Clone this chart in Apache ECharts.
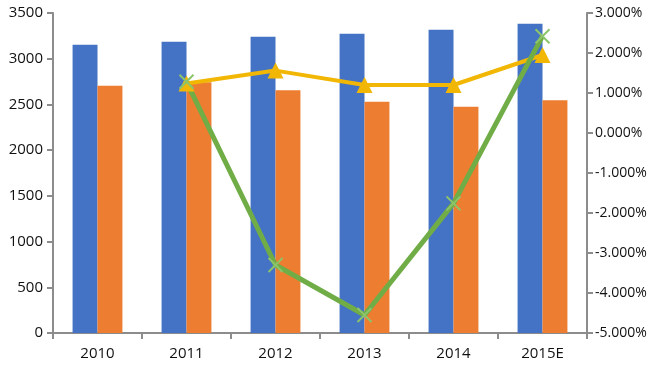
<!DOCTYPE html>
<html><head><meta charset="utf-8">
<script src="https://cdn.jsdelivr.net/npm/echarts@6/dist/echarts.min.js"></script>
<style>html,body{margin:0;padding:0;background:#fff}#c{width:659px;height:373px}</style>
</head><body><div id="c"></div>
<script>
var categories = ['2010','2011','2012','2013','2014','2015E'];
var blueValues = [3153, 3186, 3241, 3274, 3318, 3383];
var orangeValues = [2705, 2742, 2654, 2530, 2475, 2545];
var yellowPct = [null, 1.24, 1.56, 1.20, 1.20, 1.95];
var greenPct = [null, 1.28, -3.30, -4.55, -1.76, 2.42];

var axisColor = '#8c8c8c';
var font = '"Open Sans", sans-serif';
var chart = echarts.init(document.getElementById('c'));
chart.setOption({
  animation: false,
  grid: {left: 53, right: 72, top: 13, bottom: 40},
  xAxis: {
    type: 'category', data: categories,
    axisLine: {lineStyle: {color: axisColor, width: 2}},
    axisTick: {show: true, length: 6, lineStyle: {color: axisColor, width: 2}},
    axisLabel: {color: '#111', fontSize: 15, fontFamily: font, margin: 13}
  },
  yAxis: [{
    type: 'value', min: 0, max: 3500, interval: 500,
    splitLine: {show: false},
    axisLine: {show: true, lineStyle: {color: axisColor, width: 2}},
    axisTick: {show: true, length: 6, lineStyle: {color: axisColor, width: 2}},
    axisLabel: {color: '#111', fontSize: 15, fontFamily: font, margin: 10,
      formatter: function (v) { return String(v); }}
  }, {
    type: 'value', min: -5, max: 3, interval: 1,
    splitLine: {show: false},
    axisLine: {show: true, lineStyle: {color: axisColor, width: 2}},
    axisTick: {show: true, length: 6, lineStyle: {color: axisColor, width: 2}},
    axisLabel: {color: '#111', fontSize: 14, fontFamily: font, margin: 8,
      formatter: function (v) { return v.toFixed(3) + '%'; }}
  }],
  series: [{
    type: 'bar', data: blueValues, itemStyle: {color: '#4472C4'},
    barGap: '0%', barCategoryGap: '44%'
  }, {
    type: 'bar', data: orangeValues, itemStyle: {color: '#ED7D31'}
  }, {
    type: 'line', yAxisIndex: 1, data: yellowPct,
    lineStyle: {color: '#F2B705', width: 4},
    itemStyle: {color: '#F2B705'},
    symbol: 'triangle', symbolSize: 16, showAllSymbol: true
  }, {
    type: 'line', yAxisIndex: 1, data: greenPct,
    lineStyle: {color: '#70AD47', width: 5},
    itemStyle: {color: 'transparent', borderColor: '#8CC46B', borderWidth: 2},
    symbol: 'path://M0,0L10,10M10,0L0,10', symbolSize: 14, showAllSymbol: true
  }]
});
</script></body></html>
